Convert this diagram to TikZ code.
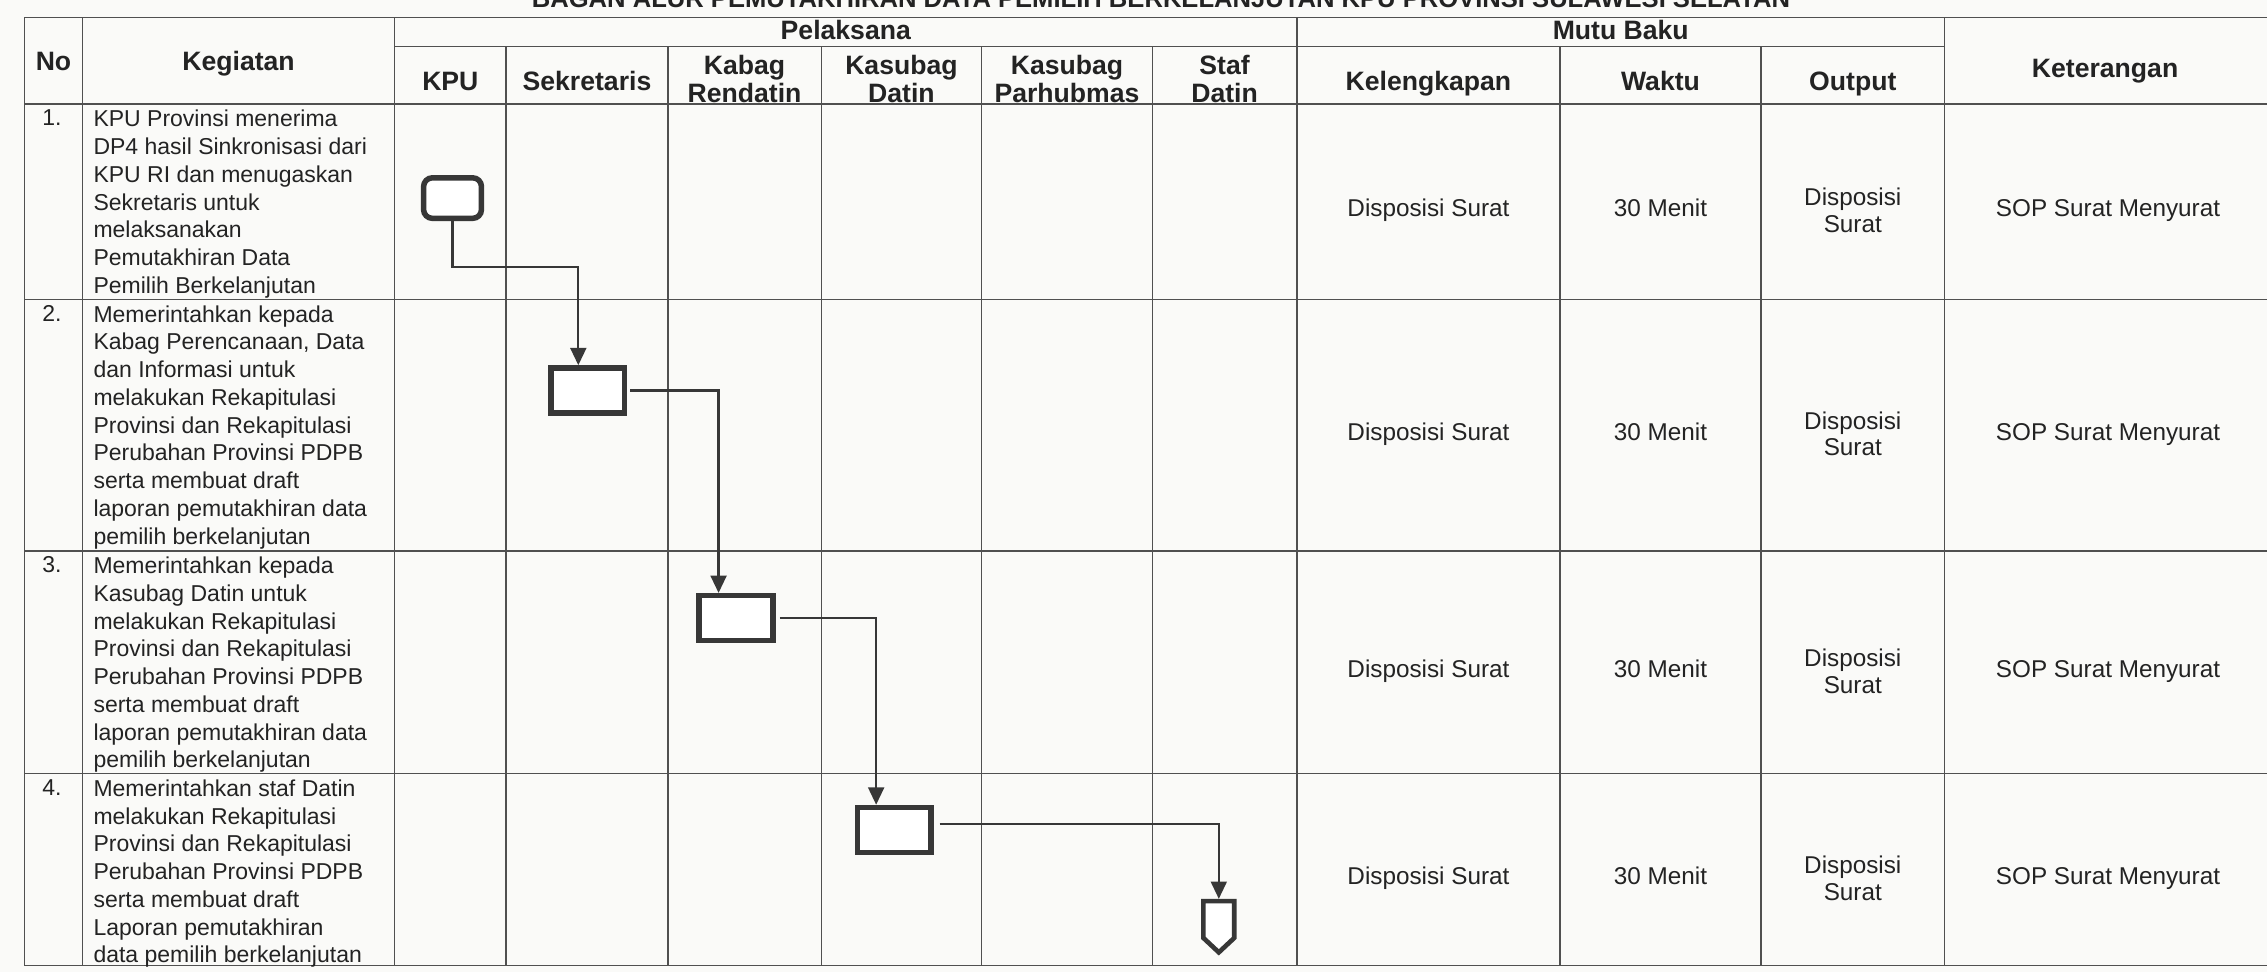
\documentclass[tikz,border=0pt]{standalone}
\usepackage{fontspec}
\setmainfont{Liberation Sans}
\usetikzlibrary{arrows.meta,calc}
\definecolor{ink}{RGB}{35,35,35}
\definecolor{gridc}{RGB}{80,80,80}
\definecolor{paper}{RGB}{250,250,248}
\definecolor{shapec}{RGB}{55,55,55}
\tikzset{
  gridl/.style={draw=gridc, line width=0.9pt},
  hdr/.style={font=\bfseries\fontsize{18.4}{19}\selectfont, text=ink, align=center, inner sep=0pt},
  ttl/.style={font=\bfseries\fontsize{17.7}{20}\selectfont, text=ink, inner sep=0pt},
  body/.style={font=\fontsize{15.9}{19.2}\selectfont, text=ink, align=left, inner sep=0pt, anchor=north west},
  num/.style={font=\fontsize{15.9}{19.2}\selectfont, text=ink, inner sep=0pt, anchor=north},
  val/.style={font=\fontsize{16.8}{18.5}\selectfont, text=ink, align=center, inner sep=0pt},
  proc/.style={draw=shapec, line width=3.8pt, fill=white, inner sep=0pt, minimum width=51pt, minimum height=31pt},
  startbox/.style={proc, rounded corners=6pt, minimum width=40pt, minimum height=28pt},
  offp/.style={draw=shapec, line width=3.2pt, line join=miter, fill=white},
  flow/.style={draw=shapec, line width=1.6pt, -{Triangle[width=11pt,length=12pt]}},
}
\begin{document}
\begin{tikzpicture}[x=1pt, y=-1pt]
\fill[paper] (0,0) rectangle (1568,672);
\useasboundingbox (0,0) rectangle (1568,672);

% title (cut off at the top edge, as in the scan)
\node[ttl, anchor=base] (title) at (803,5.5) {BAGAN ALUR PEMUTAKHIRAN DATA PEMILIH BERKELANJUTAN KPU PROVINSI SULAWESI SELATAN};

% ---- table grid ----
\foreach \yy in {12,72,207,381,535,668} \draw[gridl] (17,\yy) -- (1568,\yy);
\draw[gridl] (273,32) -- (1345,32);
\foreach \xx in {17,57,273,897,1345} \draw[gridl] (\xx,12) -- (\xx,668);
\foreach \xx in {350,462,568,679,797,1079,1218} \draw[gridl] (\xx,32) -- (\xx,668);

% ---- header ----
\node[hdr, anchor=base] (hno) at (37,48.6) {No};
\node[hdr, anchor=base] (hkeg) at (165,48.6) {Kegiatan};
\node[hdr, anchor=base] (hpel) at (585,27.5) {Pelaksana};
\node[hdr, anchor=base] (hmutu) at (1121,27.5) {Mutu Baku};
\node[hdr, anchor=base] (hkpu) at (311.5,62.5) {KPU};
\node[hdr, anchor=base] (hsek) at (406,62.5) {Sekretaris};
\node[hdr, anchor=north] (hkab) at (515,38.3) {Kabag\\Rendatin};
\node[hdr, anchor=north] (hksd) at (623.5,38.3) {Kasubag\\Datin};
\node[hdr, anchor=north] (hksp) at (738,38.3) {Kasubag\\Parhubmas};
\node[hdr, anchor=north] (hstaf) at (847,38.3) {Staf\\Datin};
\node[hdr, anchor=base] (hkel) at (988,62.5) {Kelengkapan};
\node[hdr, anchor=base] (hwak) at (1148.5,62.5) {Waktu};
\node[hdr, anchor=base] (hout) at (1281.5,62.5) {Output};
\node[hdr, anchor=base] (hket) at (1456,53.5) {Keterangan};

% ---- numbers and activities ----
\node[num] (n1) at (36,76) {1.};
\node[body] (k1) at (64.5,76) {KPU Provinsi menerima\\DP4 hasil Sinkronisasi dari\\KPU RI dan menugaskan\\Sekretaris untuk\\melaksanakan\\Pemutakhiran Data\\Pemilih Berkelanjutan};
\node[num] (n2) at (36,211) {2.};
\node[body] (k2) at (64.5,211) {Memerintahkan kepada\\Kabag Perencanaan, Data\\dan Informasi untuk\\melakukan Rekapitulasi\\Provinsi dan Rekapitulasi\\Perubahan Provinsi PDPB\\serta membuat draft\\laporan pemutakhiran data\\pemilih berkelanjutan};
\node[num] (n3) at (36,385) {3.};
\node[body] (k3) at (64.5,385) {Memerintahkan kepada\\Kasubag Datin untuk\\melakukan Rekapitulasi\\Provinsi dan Rekapitulasi\\Perubahan Provinsi PDPB\\serta membuat draft\\laporan pemutakhiran data\\pemilih berkelanjutan};
\node[num] (n4) at (36,539) {4.};
\node[body] (k4) at (64.5,539) {Memerintahkan staf Datin\\melakukan Rekapitulasi\\Provinsi dan Rekapitulasi\\Perubahan Provinsi PDPB\\serta membuat draft\\Laporan pemutakhiran\\data pemilih berkelanjutan};

% ---- quality standard columns ----
\foreach \i/\rc in {1/139.5,2/294,3/458,4/601.5}{
  \node[val, anchor=base] (kel\i) at (988,\rc+10.5) {Disposisi Surat};
  \node[val, anchor=base] (wak\i) at (1148.5,\rc+10.5) {30 Menit};
  \node[val, anchor=north] (out\i) at (1281.5,\rc-9.5) {Disposisi\\Surat};
  \node[val, anchor=base] (ket\i) at (1458,\rc+10.5) {SOP Surat Menyurat};
}

% ---- flow shapes ----
\node[startbox] (s1) at (313,137) {};
\node[proc] (s2) at (406.5,270) {};
\node[proc] (s3) at (509,427.5) {};
\node[proc] (s4) at (618.5,574) {};
\node[minimum width=21pt, minimum height=35pt, inner sep=0pt] (opc) at (843,641) {};
\draw[offp] (opc.north west) -- (opc.north east) -- ([yshift=10pt]opc.south east)
  -- (opc.south) -- ([yshift=10pt]opc.south west) -- cycle;

% ---- connectors ----
\draw[flow] (s1.south) -- ++(0,32) -| ([xshift=-6.5pt]s2.north);
\draw[flow, shorten <=2pt] (s2.east) -| ([xshift=-12pt]s3.north);
\draw[flow, shorten <=3pt] (s3.east) -| ([xshift=-12.5pt]s4.north);
\draw[flow, shorten <=4pt] ([yshift=4pt]s4.east) -| ([yshift=1.6pt]opc.north);
\end{tikzpicture}
\end{document}
